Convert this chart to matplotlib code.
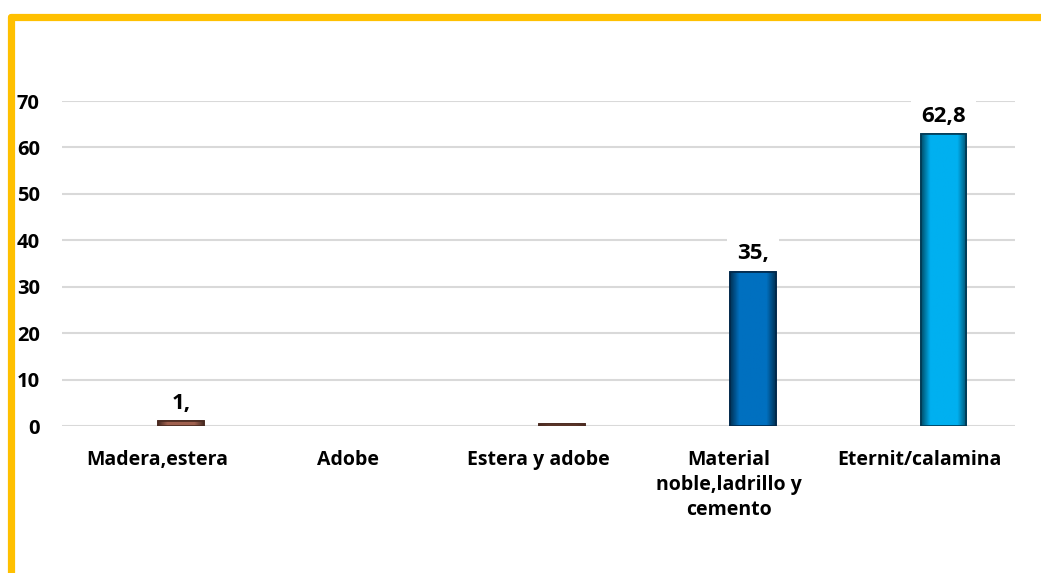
import numpy as np
import matplotlib
matplotlib.use("Agg")
import matplotlib.pyplot as plt
from matplotlib.lines import Line2D
from matplotlib.colors import to_rgb

categories = ["Madera,estera", "Adobe", "Estera y adobe",
              "Material\nnoble,ladrillo y\ncemento", "Eternit/calamina"]
values = [1.0, 0.0, 0.4, 33.2, 62.8]
labels = ["1,", "", "", "35,", "62,8"]
colors = ["#a0614f", "#a0614f", "#a0614f", "#0070c0", "#00b0f0"]
edges = ["#4a2a20", "#4a2a20", "#4a2a20", "#00284a", "#003a55"]
yticks = [0, 10, 20, 30, 40, 50, 60, 70]

plt.rcParams['font.family'] = ['Open Sans', 'DejaVu Sans']

fig = plt.figure(figsize=(10.41, 5.73), dpi=100)
ax = fig.add_axes([62/1041, 147/573, 953/1041, 325/573])

x = np.arange(len(categories))
offset = 0.125
width = 0.24
bars = ax.bar(x + offset, values, width=width, color=colors,
              edgecolor=edges, linewidth=[1.2 if v > 0 else 0 for v in values],
              zorder=3)

# bevel-like shading: darker towards the sides
prof = np.linspace(-1, 1, 60)
shade = 1 - 0.55 * np.clip(np.abs(prof) - 0.6, 0, None) / 0.4
for b, c in zip(bars, colors):
    if b.get_height() <= 0:
        continue
    rgb = np.array(to_rgb(c))
    img = (shade[None, :, None] * rgb[None, None, :])
    im = ax.imshow(img, extent=[b.get_x(), b.get_x() + b.get_width(), 0, b.get_height()],
                   aspect="auto", zorder=3.1, interpolation="bilinear")
    im.set_clip_path(b)
    ax.bar(b.get_x() + b.get_width()/2, b.get_height(), width=b.get_width(),
           color="none", edgecolor=b.get_edgecolor(), linewidth=1.2, zorder=3.2)

for b, lab in zip(bars, labels):
    if lab:
        ax.text(b.get_x() + b.get_width()/2, b.get_height() + 1.6, lab,
                ha="center", va="bottom", fontsize=16, fontweight="bold",
                zorder=2.5, bbox=dict(facecolor="white", edgecolor="none", pad=7))

ax.set_xlim(-0.5, len(categories) - 0.5)
ax.set_ylim(0, 70)
ax.set_yticks(yticks)
ax.set_yticklabels([str(t) for t in yticks], fontsize=14.5, fontweight="bold")
ax.set_xticks(x)
ax.set_xticklabels(categories, fontsize=14, fontweight="bold", va="top",
                   linespacing=1.35)
ax.tick_params(axis="both", length=0)
ax.tick_params(axis="y", pad=16)
ax.tick_params(axis="x", pad=17)
ax.grid(axis="y", color="#d9d9d9", linewidth=1.5, zorder=0)
for s in ax.spines.values():
    s.set_visible(False)

# yellow frame (top and left)
W, H = 1041, 573
fig.add_artist(Line2D([10.5/W, 1.0], [1 - 16.5/H, 1 - 16.5/H],
                      color="#ffc000", linewidth=5.2, solid_capstyle="round"))
fig.add_artist(Line2D([10.5/W, 10.5/W], [0, 1 - 16.5/H],
                      color="#ffc000", linewidth=5.2, solid_capstyle="round"))

fig.savefig("out.png", dpi=100)
